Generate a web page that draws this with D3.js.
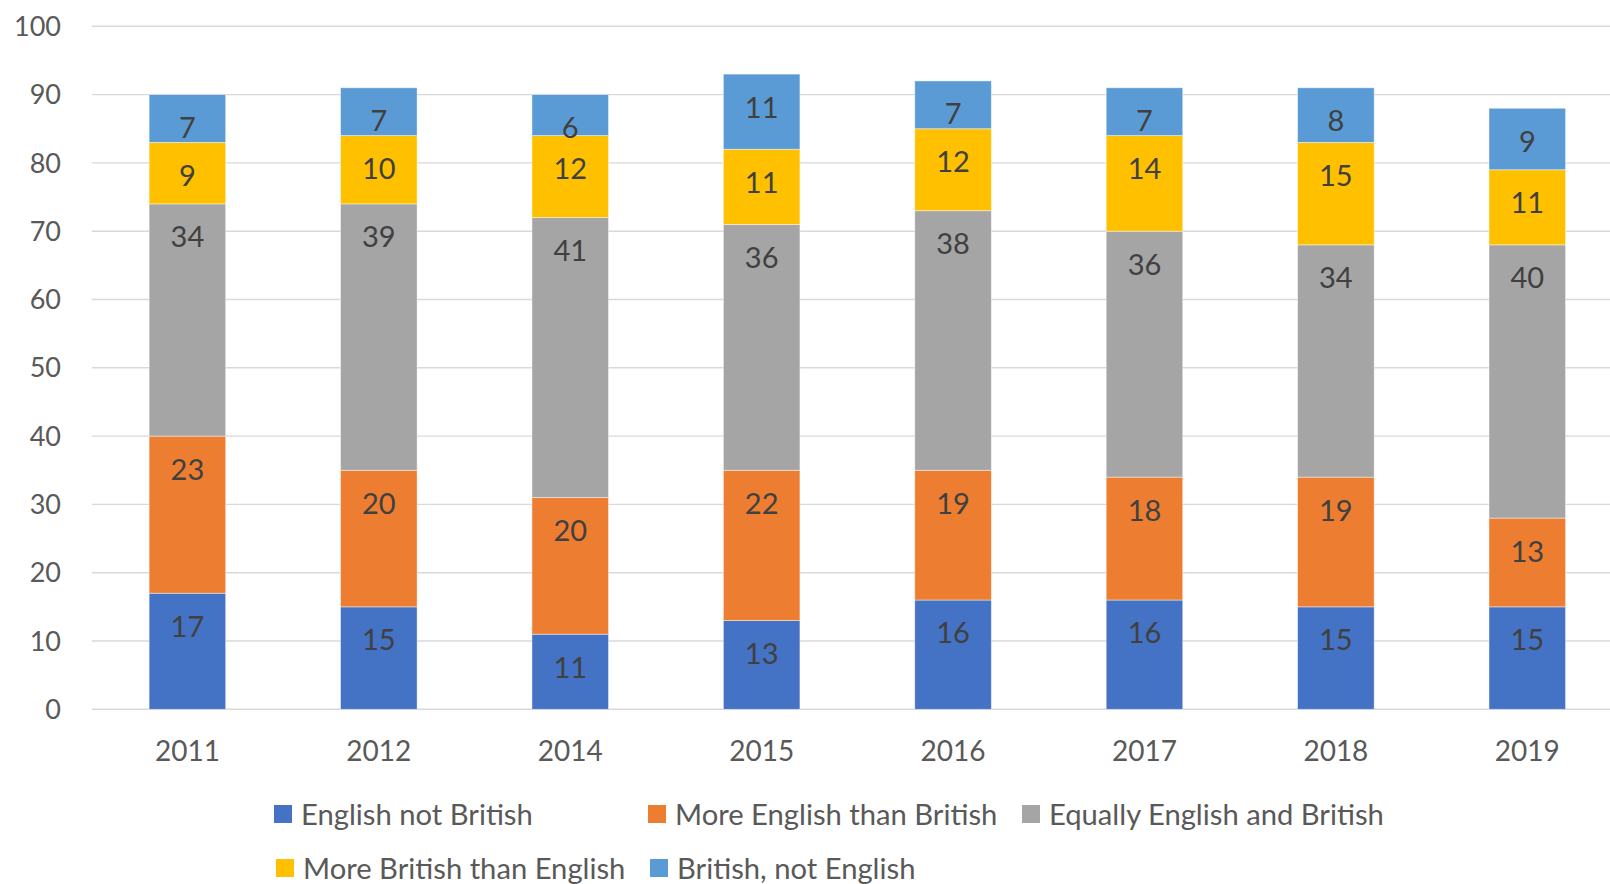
<!DOCTYPE html>
<html><head><meta charset="utf-8">
<script src="https://cdn.jsdelivr.net/npm/d3@7/dist/d3.min.js"></script>
<style>
html,body{margin:0;padding:0;background:#fff;}
svg{display:block;}
text{font-family:Lato,"Open Sans",sans-serif;}
</style></head>
<body>
<svg id="chart" width="1610" height="884"></svg>
<script>
const years = ["2011","2012","2014","2015","2016","2017","2018","2019"];
const seriesNames = ["English not British","More English than British","Equally English and British","More British than English","British, not English"];
const seriesColors = ["#4472C4","#ED7D31","#A5A5A5","#FFC000","#5B9BD5"];
const englishNotBritish = [17,15,11,13,16,16,15,15];
const moreEnglish = [23,20,20,22,19,18,19,13];
const equally = [34,39,41,36,38,36,34,40];
const moreBritish = [9,10,12,11,12,14,15,11];
const britishNotEnglish = [7,7,6,11,7,7,8,9];
const yTicks = [0,10,20,30,40,50,60,70,80,90,100];

const seriesValues = [englishNotBritish, moreEnglish, equally, moreBritish, britishNotEnglish];
const keys = seriesNames;
const table = years.map((y,i)=>{
  const r = {year:y};
  keys.forEach((k,j)=>r[k]=seriesValues[j][i]);
  return r;
});

const svg = d3.select("#chart");
const x = d3.scaleBand().domain(years).range([91.7,1623]).paddingInner(0.6).paddingOuter(0.3);
const y = d3.scaleLinear().domain([0,100]).range([709.3,26.3]);

// gridlines
svg.append("g").selectAll("line").data(yTicks).join("line")
  .attr("x1",91.7).attr("x2",1610)
  .attr("y1",d=>y(d)).attr("y2",d=>y(d))
  .attr("stroke","#D9D9D9").attr("stroke-width",1.4);

// y axis labels
const yAxis = d3.axisLeft(y).tickValues(yTicks).tickSize(0).tickPadding(0);
const yg = svg.append("g").attr("transform","translate(61,0)").call(yAxis);
yg.select(".domain").remove();
yg.selectAll("text").attr("font-size",27).attr("fill","#595959")
  .attr("font-family","Lato, 'Open Sans', sans-serif").attr("dy","0.34em");

// x axis labels
const xAxis = d3.axisBottom(x).tickSize(0).tickPadding(0);
const xg = svg.append("g").attr("transform","translate(0,751)").call(xAxis);
xg.select(".domain").remove();
xg.selectAll("text").attr("font-size",28).attr("fill","#595959")
  .attr("font-family","Lato, 'Open Sans', sans-serif").attr("dy","0.36em");

// stacked bars
const stack = d3.stack().keys(keys)(table);
const groups = svg.append("g").selectAll("g").data(stack).join("g")
  .attr("fill",(d,i)=>seriesColors[i]);
groups.selectAll("rect").data(d=>d).join("rect")
  .attr("x",d=>x(d.data.year))
  .attr("width",x.bandwidth())
  .attr("y",d=>y(d[1]))
  .attr("height",d=>y(d[0])-y(d[1]))
  .attr("stroke","#ffffff").attr("stroke-opacity",0.55).attr("stroke-width",0.8);

// data labels (placed near top inside each segment)
const labelOffset = 33;
groups.selectAll("text").data(d=>d.map(v=>({v, key:d.key}))).join("text")
  .attr("x",d=>x(d.v.data.year)+x.bandwidth()/2)
  .attr("y",d=>y(d.v[1])+labelOffset)
  .attr("dy","0.36em")
  .attr("text-anchor","middle")
  .attr("font-size",29)
  .attr("fill","#404040")
  .text(d=>d.v.data[d.key]);

// legend
const colW = 374, legX = 274, rowY = [805, 859], sw = 18;
const leg = svg.append("g").selectAll("g").data(seriesNames).join("g")
  .attr("transform",(d,i)=>`translate(${legX + (i%3)*colW + (i>=3 ? 2 : 0)},${rowY[Math.floor(i/3)]})`);
leg.append("rect").attr("width",sw).attr("height",sw).attr("fill",(d,i)=>seriesColors[i]);
leg.append("text").attr("x",27).attr("y",sw/2).attr("dy","0.36em")
  .attr("font-size",29.2).attr("fill","#595959").text(d=>d);
</script>
</body></html>
